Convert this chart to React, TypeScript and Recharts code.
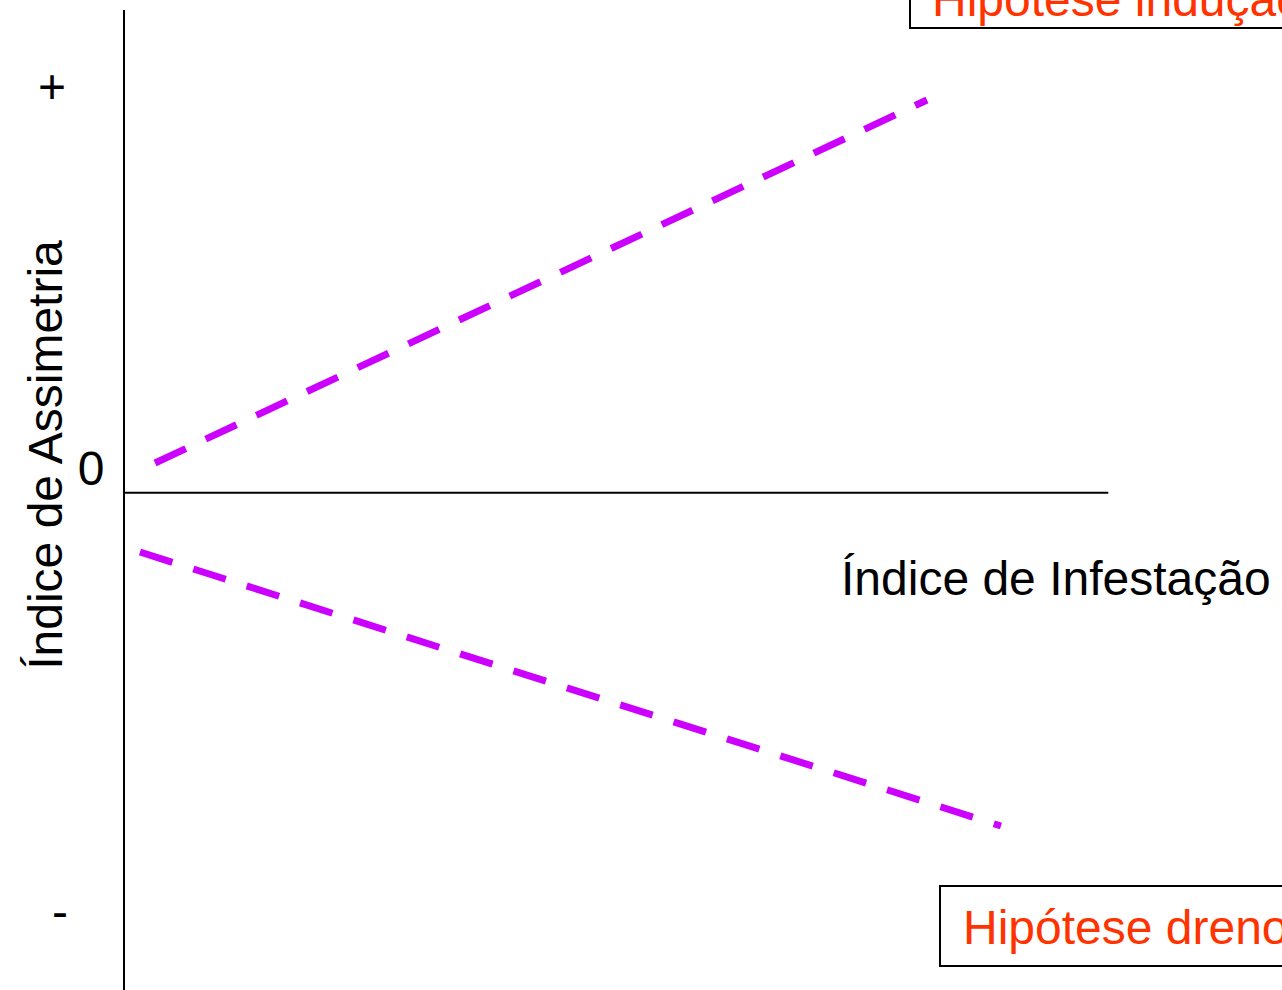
import React from "react";
import {
  ComposedChart,
  Line,
  XAxis,
  YAxis,
  ReferenceLine,
  Customized,
} from "recharts";

// conceptual chart: asymmetry index vs infestation index (arbitrary units)
const upperX = [2.68, 69.34];
const upperY = [6.16, 81.36];
const lowerX = [1.38, 75.73];
const lowerY = [-12.27, -69.03];

const xAxisEnd = 85;
const yTickLabels = ["+", "0", "-"];
const boxLabels = ["Hipótese indução", "Hipótese dreno"];

const upperData = upperX.map((x, i) => ({ x, y: upperY[i] }));
const lowerData = lowerX.map((x, i) => ({ x, y: lowerY[i] }));

const FONT = '"Liberation Sans", Arial, Helvetica, sans-serif';
const MAGENTA = "#cc00ff";
const RED = "#ff3300";

function Annotations() {
  return (
    <g fontFamily={FONT} fontSize={48}>
      <text x={52} y={103} textAnchor="middle" fill="#000">
        {yTickLabels[0]}
      </text>
      <text x={91} y={485} textAnchor="middle" fill="#000">
        {yTickLabels[1]}
      </text>
      <text x={60} y={928} textAnchor="middle" fill="#000">
        {yTickLabels[2]}
      </text>
      <text
        x={62}
        y={455}
        textAnchor="middle"
        fill="#000"
        transform="rotate(-90 62 455)"
      >
        Índice de Assimetria
      </text>
      <text x={841} y={595} fill="#000">
        Índice de Infestação
      </text>
      <rect x={910} y={-60} width={420} height={88} fill="#fff" stroke="#000" strokeWidth={2} />
      <text x={932} y={16} fill={RED}>
        {boxLabels[0]}
      </text>
      <rect x={940} y={886} width={400} height={80} fill="#fff" stroke="#000" strokeWidth={2} />
      <text x={963} y={944} fill={RED}>
        {boxLabels[1]}
      </text>
    </g>
  );
}

export default function App() {
  return (
    <div style={{ position: "absolute", left: 0, top: 0, background: "#fff" }}>
      <ComposedChart
        width={1282}
        height={990}
        margin={{ top: 10, right: 0, left: 124, bottom: 0 }}
      >
        <XAxis type="number" dataKey="x" domain={[0, 100]} hide allowDataOverflow />
        <YAxis type="number" dataKey="y" domain={[-103, 100]} hide allowDataOverflow width={0} />
        <ReferenceLine
          segment={[
            { x: 0, y: 100 },
            { x: 0, y: -103 },
          ]}
          stroke="#000"
          strokeWidth={2}
          ifOverflow="visible"
        />
        <ReferenceLine
          segment={[
            { x: 0, y: 0 },
            { x: xAxisEnd, y: 0 },
          ]}
          stroke="#000"
          strokeWidth={2}
          ifOverflow="visible"
        />
        <Line
          data={upperData}
          dataKey="y"
          type="linear"
          stroke={MAGENTA}
          strokeWidth={7}
          strokeDasharray="34 22"
          dot={false}
          isAnimationActive={false}
        />
        <Line
          data={lowerData}
          dataKey="y"
          type="linear"
          stroke={MAGENTA}
          strokeWidth={7}
          strokeDasharray="34 22"
          dot={false}
          isAnimationActive={false}
        />
        <Customized component={<Annotations />} />
      </ComposedChart>
    </div>
  );
}
